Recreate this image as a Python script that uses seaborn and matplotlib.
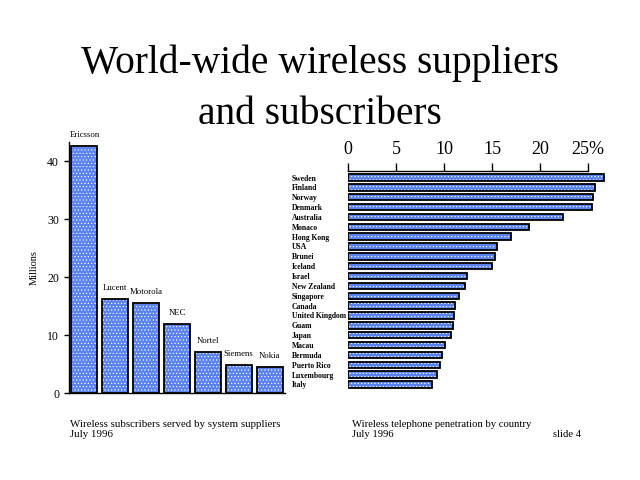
import matplotlib
matplotlib.use("Agg")
import matplotlib.pyplot as plt
import seaborn as sns
import pandas as pd

# ---- data ----
suppliers = ["Ericsson", "Lucent", "Motorola", "NEC", "Nortel", "Siemens", "Nokia"]
subscribers_millions = [42.6, 16.2, 15.5, 11.9, 7.1, 4.8, 4.5]

countries = ["Sweden", "Finland", "Norway", "Denmark", "Australia", "Monaco",
             "Hong Kong", "USA", "Brunei", "Iceland", "Israel", "New Zealand",
             "Singapore", "Canada", "United Kingdom", "Guam", "Japan", "Macau",
             "Bermuda", "Puerto Rico", "Luxembourg", "Italy"]
penetration_pct = [26.7, 25.7, 25.5, 25.4, 22.4, 18.9, 17.0, 15.5, 15.3, 15.0,
                   12.4, 12.2, 11.6, 11.1, 11.0, 10.9, 10.7, 10.1, 9.8, 9.6,
                   9.3, 8.75]

left_yticks = [0, 10, 20, 30, 40]
right_xticks = [0, 5, 10, 15, 20, 25]
right_xticklabels = ["0", "5", "10", "15", "20", "25%"]

title = "World-wide wireless suppliers\nand subscribers"
left_caption = "Wireless subscribers served by system suppliers\nJuly 1996"
right_caption = "Wireless telephone penetration by country\nJuly 1996"
slide_note = "slide 4"

# ---- style ----
sns.set_style("white")
plt.rcParams["font.family"] = ["Liberation Serif", "DejaVu Serif"]
plt.rcParams["hatch.linewidth"] = 0.45
for k in ["text.color", "axes.labelcolor", "xtick.color", "ytick.color"]:
    plt.rcParams[k] = "black"

BLUE = "#5a82f0"
W, H = 640, 480
fig = plt.figure(figsize=(6.4, 4.8), dpi=100)

df_sup = pd.DataFrame({"supplier": suppliers, "millions": subscribers_millions})
df_cty = pd.DataFrame({"country": countries, "pct": penetration_pct})

# ---- left chart ----
axL = fig.add_axes([69 / W, (480 - 393) / H, (285 - 69) / W, (393 - 142) / H])
sns.barplot(data=df_sup, x="supplier", y="millions", ax=axL, color=BLUE,
            width=0.84, hatch=".....", edgecolor="white", linewidth=0,
            saturation=1)
sns.barplot(data=df_sup, x="supplier", y="millions", ax=axL, color="black",
            width=0.84, fill=False, linewidth=1.3)
axL.set_ylim(0, 43.3)
axL.set_xlim(-0.5, len(suppliers) - 0.5)
axL.set_yticks(left_yticks)
axL.tick_params(axis="y", direction="out", length=3.6, width=1, pad=3.5,
                labelsize=8.5, left=True)
axL.tick_params(axis="x", bottom=False, labelbottom=False)
axL.set_xlabel("")
axL.set_ylabel("Millions", fontsize=7.5, labelpad=6)
for s in ["top", "right"]:
    axL.spines[s].set_visible(False)
for s in ["left", "bottom"]:
    axL.spines[s].set_color("black")
    axL.spines[s].set_linewidth(1.0)
axL.bar_label(axL.containers[1], labels=suppliers, padding=5, fontsize=6.3)

# ---- right chart ----
xmax = 26.9
axR = fig.add_axes([348 / W, (480 - 389.4) / H, xmax * 9.6 / W, (389.4 - 171) / H])
sns.barplot(data=df_cty, x="pct", y="country", orient="h", ax=axR, color=BLUE,
            width=0.66, hatch=".....", edgecolor="white", linewidth=0,
            saturation=1)
sns.barplot(data=df_cty, x="pct", y="country", orient="h", ax=axR,
            color="black", width=0.66, fill=False, linewidth=1.3)
axR.set_xlim(0, xmax)
axR.set_ylim(len(countries) - 0.5, -0.66)
axR.xaxis.set_ticks_position("top")
axR.xaxis.set_label_position("top")
axR.set_xticks(right_xticks)
axR.set_xticklabels(right_xticklabels)
axR.tick_params(axis="x", direction="out", length=6, width=1, pad=3,
                labelsize=13, top=True, bottom=False)
axR.tick_params(axis="y", left=False, length=0, pad=40.3, labelsize=5.5)
for lab in axR.get_yticklabels():
    lab.set_horizontalalignment("left")
    lab.set_fontweight("bold")
axR.set_xlabel("")
axR.set_ylabel("")
for s in ["bottom", "left", "right"]:
    axR.spines[s].set_visible(False)
axR.spines["top"].set_color("black")
axR.spines["top"].set_linewidth(1.0)
axR.spines["top"].set_bounds(0, 25)

# ---- texts ----
fig.text(320 / W, 1 - 44 / H, title, ha="center", va="top", fontsize=28.4,
         linespacing=1.5)
fig.text(70 / W, 1 - 437 / H, left_caption, ha="left", va="baseline",
         fontsize=7.8, linespacing=1.15)
fig.text(352 / W, 1 - 437 / H, right_caption, ha="left", va="baseline",
         fontsize=7.7, linespacing=1.15)
fig.text(553 / W, 1 - 437 / H, slide_note, ha="left", va="baseline",
         fontsize=7.7)

fig.savefig("out.png", dpi=100)
